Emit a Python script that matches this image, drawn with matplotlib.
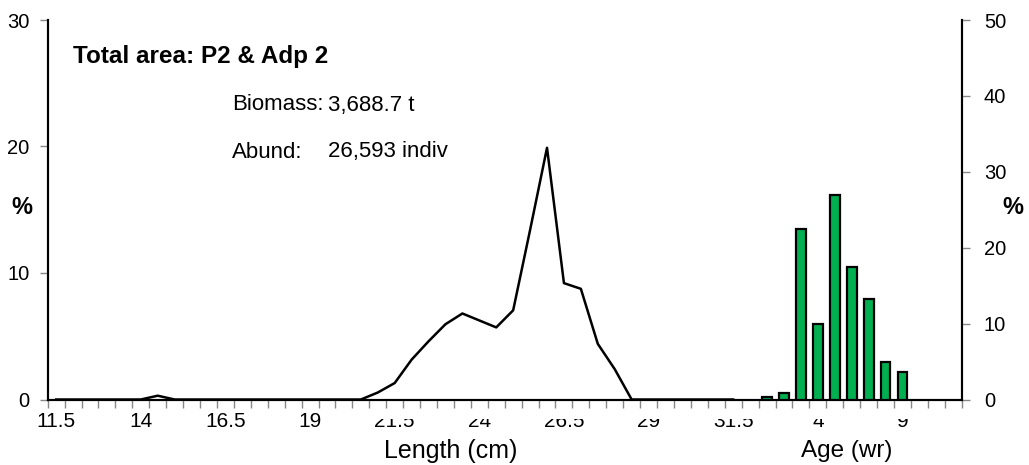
import matplotlib
matplotlib.use("Agg")
import matplotlib.pyplot as plt
from matplotlib.patches import Rectangle
from matplotlib.ticker import FixedLocator, NullFormatter

plt.rcParams['font.family'] = ['Liberation Sans', 'DejaVu Sans']

# ---- data ----
length_cats = [11.5 + 0.5 * i for i in range(42)]          # 11.5 .. 32
length_pct = [0, 0, 0, 0, 0, 0, 0.3, 0, 0, 0, 0, 0, 0, 0, 0, 0, 0, 0, 0,
              0.55, 1.3, 3.15, 4.6, 5.95, 6.8, 6.25, 5.7, 7.05, 13.4, 19.9,
              9.2, 8.75, 4.4, 2.4, 0, 0, 0, 0, 0, 0, 0]      # 11.5 .. 31.5
age_cats = [1, 2, 3, 4, 5, 6, 7, 8, 9, 10, 11, 12]
age_pct = [0.3, 0.8, 22.4, 10.0, 27.0, 17.4, 13.2, 4.9, 3.6, 0, 0, 0]

title = "Total area: P2 & Adp 2"
biomass = "3,688.7 t"
abund = "26,593 indiv"

# ---- figure ----
W, H = 1029, 465
fig = plt.figure(figsize=(W / 100, H / 100), dpi=100)
x0, x1, y0, y1 = 47.7, 961.7, 399.5, 20
ax = fig.add_axes([x0 / W, 1 - y0 / H, (x1 - x0) / W, (y0 - y1) / H])
ax2 = ax.twinx()

cats = [(f"{v:g}") for v in length_cats] + [str(a) for a in age_cats]
n = len(cats)
pos = list(range(n))

# line (length distribution)
ax.plot(pos[:len(length_pct)], length_pct, color='black', lw=1.8, zorder=3)

# bars (age distribution)
nl = len(length_cats)
bx = [nl + i for i, v in enumerate(age_pct) if v > 0]
bv = [v for v in age_pct if v > 0]
ax2.bar(bx, bv, width=0.58, color='#00B050', edgecolor='black', linewidth=1.6, zorder=3)

ax.set_xlim(-0.5, n - 0.5)
ax.set_ylim(0, 30)
ax2.set_ylim(0, 50)

ax.set_yticks([0, 10, 20, 30])
ax2.set_yticks([0, 10, 20, 30, 40, 50])

label_idx = list(range(0, n, 5))
ax.set_xticks(label_idx)
ax.set_xticklabels([cats[i] for i in label_idx])
ax.xaxis.set_minor_locator(FixedLocator([i - 0.5 for i in range(n + 1)]))
ax.xaxis.set_minor_formatter(NullFormatter())
ax.tick_params(axis='x', which='major', length=0, labelsize=15, pad=9)
ax.tick_params(axis='x', which='minor', length=6, color='#888888', width=1, direction='out')
ax.tick_params(axis='y', length=6, color='#888888', width=1, labelsize=14.5, pad=7)
ax2.tick_params(axis='y', length=6, color='#888888', width=1, labelsize=14.5, pad=10)

for a in (ax, ax2):
    a.spines['top'].set_visible(False)
    for s in ('left', 'right', 'bottom'):
        a.spines[s].set_linewidth(1.5)
        a.spines[s].set_color('black')

# axis labels
fig.text(451 / W, 1 - 451 / H, "Length (cm)", fontsize=18, ha='center', va='center')
fig.text(847 / W, 1 - 451 / H, "Age (wr)", fontsize=17.5, ha='center', va='center')
fig.text(22 / W, 1 - 208 / H, "%", fontsize=17, fontweight='bold', ha='center', va='center')
fig.text(1013 / W, 1 - 207 / H, "%", fontsize=17, fontweight='bold', ha='center', va='center')

# annotations
fig.text(73 / W, 1 - 57 / H, title, fontsize=17.5, fontweight='bold', ha='left', va='center')
fig.text(232 / W, 1 - 105 / H, "Biomass:", fontsize=16, ha='left', va='center')
fig.text(328 / W, 1 - 105 / H, biomass, fontsize=16, ha='left', va='center')
fig.text(232 / W, 1 - 152 / H, "Abund:", fontsize=16, ha='left', va='center')
fig.text(328 / W, 1 - 152 / H, abund, fontsize=16, ha='left', va='center')

# clipped tops of right-hand tick labels, as in the source
fig.patches.append(Rectangle((362 / W, 1 - 419 / H), (925 - 362) / W, 10 / H,
                             transform=fig.transFigure, facecolor='white',
                             edgecolor='none', zorder=5))

fig.savefig("out.png", dpi=100)
